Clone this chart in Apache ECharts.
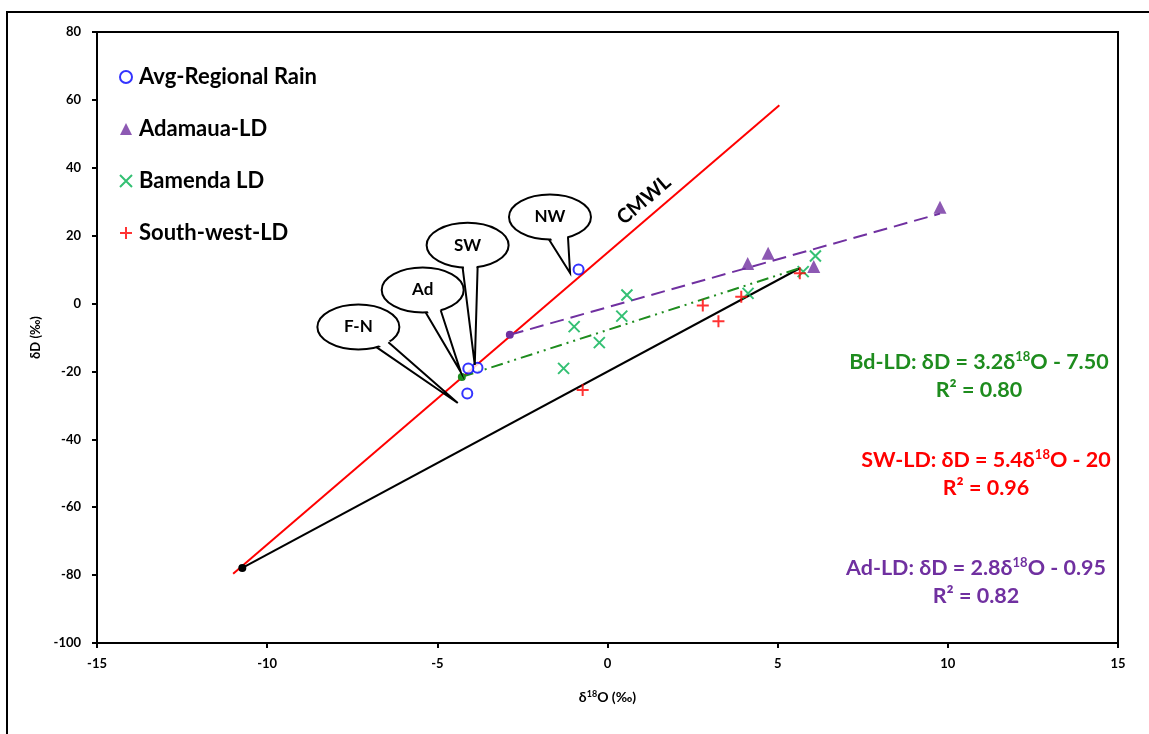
<!DOCTYPE html>
<html>
<head>
<meta charset="utf-8">
<script src="https://cdn.jsdelivr.net/npm/echarts@6/dist/echarts.min.js"></script>
<style>
  html, body { margin: 0; padding: 0; background: #fff; }
  #chart { width: 1149px; height: 734px; }
</style>
</head>
<body>
<div id="chart"></div>
<script>
// δ18O, δD pairs
var avgRain = [[-0.85, 10.0], [-3.82, -18.9], [-4.09, -19.1], [-4.12, -26.5]];
var adamaua = [[4.12, 11.8], [4.72, 14.8], [6.06, 10.9], [9.77, 28.4]];
var bamenda = [[0.57, 2.5], [0.42, -3.7], [-0.98, -6.8], [-0.24, -11.5], [-1.29, -19.1], [4.13, 3.0], [5.75, 9.4], [6.11, 14.0]];
var southWest = [[2.8, -0.6], [3.26, -5.2], [3.93, 2.0], [5.65, 8.9], [-0.73, -25.5]];

// trend lines (start point carries the dot)
var cmwl = [[-11.0, -79.6], [5.05, 58.4]];
var swTrend = [[-10.73, -77.9], [5.65, 10.4]];
var bdTrend = [[-4.28, -21.6], [5.64, 10.4]];
var adTrend = [[-2.87, -9.2], [9.77, 26.5]];

var xTicks = [-15, 15, 5];
var yTicks = [-100, 80, 20];

// callouts: label, bubble centre and tail tip in data units
var callouts = [
  { text: 'NW', c: [-1.69, 25.5], tip: [-1.10, 9.0], base: [-1, 18] },
  { text: 'SW', c: [-4.11, 17.2], tip: [-3.90, -18.1], base: [-5, 10] },
  { text: 'Ad', c: [-5.43, 4.0], tip: [-4.31, -20.2], base: [3, 18] },
  { text: 'F-N', c: [-7.32, -6.9], tip: [-4.40, -29.3], base: [18, 30] }
];

var FONT = 'Lato, "Open Sans", "DejaVu Sans", sans-serif';
var GREEN_MK = '#00B050';
var GREEN_LN = '#1E8C1E';
var PURPLE = '#7030A0';
var RED = '#FF0000';
var BLUE = '#0000FF';

var crossPath = 'path://M0,0L10,10M10,0L0,10';
var plusPath = 'path://M5,0L5,10M0,5L10,5';

function trendData(pts, size) {
  return pts.map(function (p, i) {
    return { value: p, symbol: i === 0 ? 'circle' : 'none', symbolSize: size };
  });
}

var chart = echarts.init(document.getElementById('chart'));

var option = {
  animation: false,
  backgroundColor: '#fff',
  grid: {
    left: 97, right: 31, top: 32, bottom: 91,
    show: true, borderColor: '#000', borderWidth: 2
  },
  legend: {
    orient: 'vertical',
    left: 114,
    top: 61,
    itemWidth: 12,
    itemHeight: 12,
    itemGap: 30,
    data: ['Avg-Regional Rain', 'Adamaua-LD', 'Bamenda LD', 'South-west-LD'],
    textStyle: { fontFamily: FONT, fontWeight: 'bold', fontSize: 22, color: '#000', lineHeight: 22, padding: [0, 0, 0, 2] }
  },
  xAxis: {
    type: 'value',
    min: xTicks[0], max: xTicks[1], interval: xTicks[2],
    name: '{a|δ}{s|18}{a|O (‰)}',
    nameLocation: 'middle',
    nameGap: 47,
    nameTextStyle: {
      rich: {
        a: { fontFamily: FONT, fontWeight: 'bold', fontSize: 14, color: '#000' },
        s: { fontFamily: FONT, fontWeight: 'bold', fontSize: 9, color: '#000', verticalAlign: 'top', lineHeight: 13 }
      }
    },
    axisLine: { onZero: false, lineStyle: { color: '#000', width: 2 } },
    axisTick: { inside: false, length: 5, lineStyle: { color: '#000', width: 2 } },
    axisLabel: { fontFamily: FONT, fontWeight: 'bold', fontSize: 13, color: '#000', margin: 14 },
    splitLine: { show: false }
  },
  yAxis: {
    type: 'value',
    min: yTicks[0], max: yTicks[1], interval: yTicks[2],
    name: 'δD (‰)',
    nameLocation: 'middle',
    nameGap: 55,
    nameTextStyle: { fontFamily: FONT, fontWeight: 'bold', fontSize: 13, color: '#000' },
    axisLine: { onZero: false, lineStyle: { color: '#000', width: 2 } },
    axisTick: { inside: false, length: 5, lineStyle: { color: '#000', width: 2 } },
    axisLabel: { fontFamily: FONT, fontWeight: 'bold', fontSize: 13, color: '#000', margin: 16 },
    splitLine: { show: false }
  },
  series: [
    {
      name: 'CMWL', type: 'line', data: cmwl, showSymbol: false, z: 2,
      lineStyle: { color: RED, width: 2 }
    },
    {
      name: 'SW trend', type: 'line', data: trendData(swTrend, 8), z: 2,
      itemStyle: { color: '#000' },
      lineStyle: { color: '#000', width: 2 }
    },
    {
      name: 'Bd trend', type: 'line', data: trendData(bdTrend, 8), z: 2,
      itemStyle: { color: GREEN_LN },
      lineStyle: { color: GREEN_LN, width: 2, type: [12, 5, 2, 5, 2, 5] }
    },
    {
      name: 'Ad trend', type: 'line', data: trendData(adTrend, 8), z: 2,
      itemStyle: { color: PURPLE },
      lineStyle: { color: PURPLE, width: 2, type: [14, 7] }
    },
    {
      name: 'Avg-Regional Rain', type: 'scatter', data: avgRain, z: 5,
      symbol: 'emptyCircle', symbolSize: 10,
      itemStyle: { color: BLUE, borderWidth: 2 }
    },
    {
      name: 'Adamaua-LD', type: 'scatter', data: adamaua, z: 5,
      symbol: 'triangle', symbolSize: 13,
      itemStyle: { color: PURPLE }
    },
    {
      name: 'Bamenda LD', type: 'scatter', data: bamenda, z: 5,
      symbol: crossPath, symbolSize: 11,
      itemStyle: { color: 'rgba(0,0,0,0)', borderColor: GREEN_MK, borderWidth: 2 }
    },
    {
      name: 'South-west-LD', type: 'scatter', data: southWest, z: 5,
      symbol: plusPath, symbolSize: 12,
      itemStyle: { color: 'rgba(0,0,0,0)', borderColor: RED, borderWidth: 2 }
    }
  ]
};

chart.setOption(option);

// annotations drawn after layout so they follow the axes
function px(p) { return chart.convertToPixel({ gridIndex: 0 }, p); }

var graphics = [];
// outer frame
graphics.push({
  type: 'rect', shape: { x: 7, y: 12, width: 1160, height: 740 },
  style: { fill: null, stroke: '#000', lineWidth: 2 }, silent: true, z: 0
});

var RX = 41, RY = 22.5;
callouts.forEach(function (c) {
  var ctr = px(c.c), tip = px(c.tip);
  var b = c.base.map(function (dx) {
    return [ctr[0] + dx, ctr[1] + RY * Math.sqrt(1 - (dx / RX) * (dx / RX))];
  });
  graphics.push({
    type: 'ellipse', z: 50,
    shape: { cx: ctr[0], cy: ctr[1], rx: RX, ry: RY },
    style: { fill: '#fff', stroke: '#000', lineWidth: 2 }
  });
  graphics.push({
    type: 'polygon', z: 51,
    shape: { points: [[b[0][0] + 1, b[0][1] - 3], tip, [b[1][0] - 1, b[1][1] - 3]] },
    style: { fill: '#fff', stroke: null }
  });
  graphics.push({
    type: 'polyline', z: 52,
    shape: { points: [b[0], tip, b[1]] },
    style: { fill: null, stroke: '#000', lineWidth: 2 }
  });
  graphics.push({
    type: 'text', z: 53, x: ctr[0], y: ctr[1],
    style: { text: c.text, fontFamily: FONT, fontWeight: 'bold', fontSize: 17, fill: '#000', align: 'center', verticalAlign: 'middle' }
  });
});

// CMWL label along the line
var l0 = px(cmwl[0]), l1 = px(cmwl[1]);
var ang = Math.atan2(l0[1] - l1[1], l1[0] - l0[0]);
var lp = px([1.07, 30.5]);
graphics.push({
  type: 'text', z: 40, x: lp[0], y: lp[1], rotation: ang,
  style: { text: 'CMWL', fontFamily: FONT, fontWeight: 'bold', fontSize: 20, fill: '#000', align: 'center', verticalAlign: 'middle' }
});

// regression equations
var eqs = [
  { color: GREEN_LN, name: 'Bd-LD: δD = 3.2δ', tail: 'O - 7.50', r2: 'R² = 0.80', x: 979, y: 362 },
  { color: RED, name: 'SW-LD: δD = 5.4δ', tail: 'O - 20', r2: 'R² = 0.96', x: 986, y: 460 },
  { color: PURPLE, name: 'Ad-LD: δD = 2.8δ', tail: 'O - 0.95', r2: 'R² = 0.82', x: 976, y: 568 }
];
eqs.forEach(function (e) {
  graphics.push({
    type: 'text', z: 40, x: e.x, y: e.y,
    style: {
      text: '{m|' + e.name + '}{s|18}{m|' + e.tail + '}',
      align: 'center', verticalAlign: 'middle',
      rich: {
        m: { fontFamily: FONT, fontWeight: 'bold', fontSize: 21.5, fill: e.color, lineHeight: 24 },
        s: { fontFamily: FONT, fontWeight: 'bold', fontSize: 13, fill: e.color, lineHeight: 24, verticalAlign: 'top', padding: [0, 0, 8, 0] }
      }
    }
  });
  graphics.push({
    type: 'text', z: 40, x: e.x, y: e.y + 28,
    style: { text: e.r2, fontFamily: FONT, fontWeight: 'bold', fontSize: 21.5, fill: e.color, align: 'center', verticalAlign: 'middle' }
  });
});

chart.setOption({ graphic: graphics });
</script>
</body>
</html>
